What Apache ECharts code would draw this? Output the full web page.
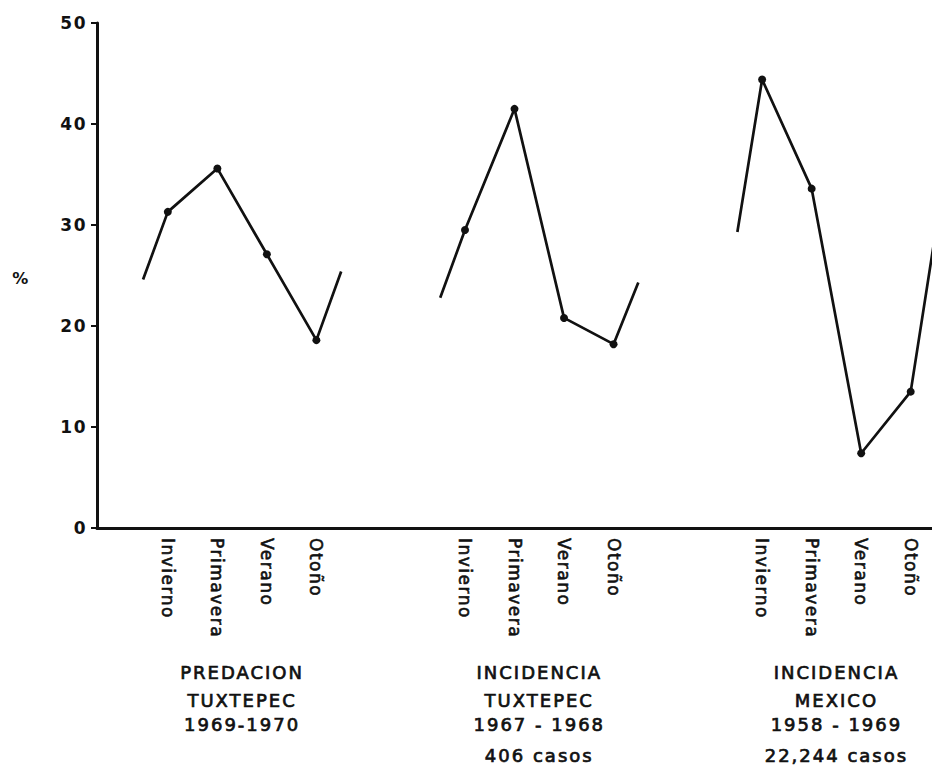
<!DOCTYPE html>
<html>
<head>
<meta charset="utf-8">
<script src="https://cdn.jsdelivr.net/npm/echarts@6/dist/echarts.min.js"></script>
<style>
html,body{margin:0;padding:0;background:#fff;}
#chart{width:932px;height:765px;}
</style>
</head>
<body>
<div id="chart"></div>
<script>
// ---- data ----
const seasons = ['Invierno', 'Primavera', 'Verano', 'Otoño'];
const predacionTuxtepec = [31.3, 35.6, 27.1, 18.6];
const incidenciaTuxtepec = [29.5, 41.5, 20.8, 18.2];
const incidenciaMexico = [44.4, 33.6, 7.4, 13.5];
const leadValues = [24.6, 22.8, 29.3];   // line entering each panel (before Invierno)
const trailValues = [25.4, 24.3, 29.2];  // line leaving each panel (after Otoño)
const groupTitles = [
  ['PREDACION', 'TUXTEPEC', '1969-1970'],
  ['INCIDENCIA', 'TUXTEPEC', '1967 - 1968', '406 casos'],
  ['INCIDENCIA', 'MEXICO', '1958 - 1969', '22,244 casos']
];
const yTicks = [0, 10, 20, 30, 40, 50];
const yUnit = '%';

// ---- layout helpers ----
const groupValues = [predacionTuxtepec, incidenciaTuxtepec, incidenciaMexico];
const GROUP_STEP = 6;
function pos(g, s) { return g * GROUP_STEP + s; }
const labelPositions = [];
groupValues.forEach((vals, g) => vals.forEach((v, s) => labelPositions.push(pos(g, s))));

const INK = '#111';
const FONT = '"DejaVu Sans", sans-serif';

const series = groupValues.map((vals, g) => ({
  type: 'line',
  data: [
    { value: [pos(g, -0.5), leadValues[g]], symbol: 'none' },
    ...vals.map((v, s) => ({ value: [pos(g, s), v] })),
    { value: [pos(g, 3.5), trailValues[g]], symbol: 'none' }
  ],
  symbol: 'circle',
  symbolSize: 8,
  showSymbol: true,
  showAllSymbol: true,
  lineStyle: { color: INK, width: 2.7 },
  itemStyle: { color: INK },
  clip: true,
  silent: true
}));

const chart = echarts.init(document.getElementById('chart'), null, { renderer: 'svg' });
chart.setOption({
  animation: false,
  backgroundColor: '#fff',
  grid: { left: 97, right: 0, top: 23, bottom: 237, containLabel: false, outerBoundsMode: 'none' },
  xAxis: {
    type: 'value',
    min: -1.43,
    max: 15.43,
    splitLine: { show: false },
    axisTick: { show: false },
    axisLine: { show: true, onZero: false, lineStyle: { color: INK, width: 3 } },
    axisLabel: {
      customValues: labelPositions,
      rotate: -90,
      margin: 10,
      fontSize: 17,
      color: INK,
      fontFamily: FONT,
      textBorderColor: INK,
      textBorderWidth: 0.6,
      formatter: v => seasons[Math.round(v - GROUP_STEP * Math.floor((v + 0.5) / GROUP_STEP))]
    }
  },
  yAxis: {
    type: 'value',
    min: yTicks[0],
    max: yTicks[yTicks.length - 1],
    interval: yTicks[1] - yTicks[0],
    splitLine: { show: false },
    axisLine: { show: true, onZero: false, lineStyle: { color: INK, width: 3 } },
    axisTick: { show: true, length: 6, lineStyle: { color: INK, width: 2 } },
    axisLabel: { fontSize: 17, fontWeight: 'bold', color: INK, fontFamily: FONT, margin: 10 }
  },
  series: series
});

const lineY = [672, 700, 724, 755];
const graphics = [{
  type: 'text', x: 21, y: 278,
  style: { text: yUnit, align: 'center', verticalAlign: 'middle', fill: INK, font: 'bold 16px ' + FONT }
}];
groupTitles.forEach((lines, g) => {
  const cx = chart.convertToPixel({ xAxisIndex: 0, yAxisIndex: 0 }, [pos(g, 1.5), 0])[0];
  lines.forEach((t, i) => {
    graphics.push({
      type: 'text', x: cx, y: lineY[i],
      style: {
        text: t, align: 'center', verticalAlign: 'middle', fill: INK,
        stroke: INK, lineWidth: 0.7, font: '18px ' + FONT
      }
    });
  });
});
chart.setOption({ graphic: graphics });

// letter spacing of the hand-lettered original
function spaceText() {
  document.querySelectorAll('#chart svg text').forEach(t => {
    const fs = parseFloat(getComputedStyle(t).fontSize);
    t.style.letterSpacing = fs >= 18 ? '2px' : '1.5px';
  });
}
spaceText();
chart.on('finished', spaceText);
</script>
</body>
</html>
